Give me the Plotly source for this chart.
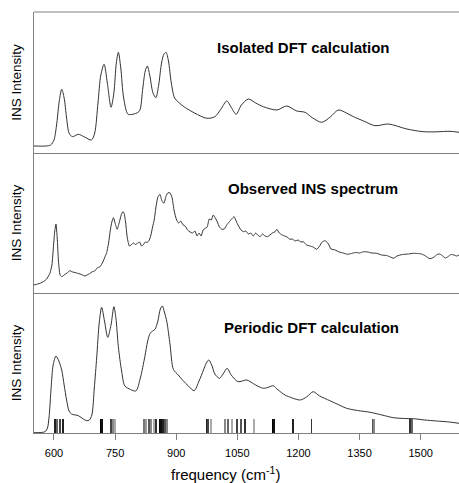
import plotly.graph_objects as go
from plotly.subplots import make_subplots

# ---------------- data ----------------
iso_freq = [551, 580, 592, 600, 607, 613, 619, 625, 631, 637, 645, 660, 675, 692, 700, 708, 715, 723, 731, 740,
            747, 753, 758, 764, 771, 782, 800, 810, 818, 824, 829, 835, 843, 850, 857, 864, 870, 875, 881, 888,
            896, 905, 920, 945, 975, 995, 1010, 1024, 1036, 1047, 1060, 1077, 1095, 1114, 1147, 1171, 1196, 1216,
            1235, 1257, 1278, 1298, 1318, 1335, 1360, 1388, 1421, 1466, 1506, 1540, 1572, 1594]
iso_int = [7, 7, 8, 13, 30, 52, 63.7, 55, 35, 20, 16.3, 18.7, 16, 13, 20, 50, 78, 88.7, 70, 45.7,
           60, 90, 100.7, 85, 55, 38.7, 39.5, 42, 65, 82, 87, 78, 60, 55.3, 68, 90, 99, 100.7, 92, 70,
           55, 51, 46, 40, 34.7, 36.3, 44, 52, 45, 38.7, 48, 54, 50, 46.3, 43, 47, 42, 40.7,
           35, 30.7, 36, 43, 40, 36.3, 32, 27.3, 29, 24, 21.3, 21.2, 21.7, 20.7]

obs_freq = [551, 560, 567, 574, 582, 590, 595, 599, 602, 605, 608, 611, 615, 619, 625, 632, 639, 646, 652, 658,
            664, 670, 676, 681, 688, 694, 700, 706, 713, 720, 725, 729, 734, 738, 742, 746, 750, 755, 760, 765,
            769, 772, 776, 780, 785, 789, 795, 800, 805, 810, 815, 819, 824, 829, 834, 838, 842, 846, 850, 855,
            860, 865, 870, 875, 880, 885, 890, 895, 901, 906, 911, 917, 922, 928, 934, 940, 946, 951, 956, 961,
            966, 971, 976, 981, 986, 991, 996, 1001, 1006, 1012, 1018, 1024, 1030, 1036, 1042, 1047, 1053, 1059,
            1065, 1071, 1077, 1083, 1089, 1095, 1100, 1106, 1112, 1118, 1124, 1130, 1136, 1142, 1147, 1153, 1160,
            1166, 1172, 1179, 1185, 1192, 1199, 1206, 1212, 1220, 1228, 1236, 1245, 1252, 1258, 1265, 1272, 1280,
            1290, 1300, 1310, 1320, 1330, 1340, 1350, 1360, 1370, 1380, 1392, 1404, 1416, 1426, 1433, 1442, 1455,
            1470, 1482, 1492, 1502, 1512, 1520, 1526, 1533, 1540, 1547, 1554, 1560, 1567, 1574, 1582, 1588, 1594]
obs_int = [8, 9, 10, 11.3, 14, 19.7, 28, 48, 62, 69, 55, 32, 18, 16.3, 18, 20, 22.3, 21, 20.5, 19.7,
           19, 18, 17, 18, 19.5, 21.3, 22, 25, 26.3, 31, 36, 39.7, 50, 62, 71, 75.3, 70, 63.7, 70, 78,
           81.3, 80, 70, 55, 47, 48, 50, 48.5, 49.7, 51, 47, 48, 51, 50.5, 53, 58, 66, 73, 85, 96,
           98.7, 92, 89.7, 97, 100.3, 100, 95, 82, 73, 70, 72, 68, 67, 63, 61, 60, 62, 57, 60, 57,
           63, 64.7, 66, 74, 73, 78, 75, 71, 66, 63.7, 64, 68, 71, 74, 76.3, 72, 67, 63,
           61.3, 62, 59, 60, 57, 60, 58, 56.3, 59, 57, 56.3, 58, 60, 61, 63.7, 60, 58,
           57, 56, 53.7, 54, 52, 53, 51, 51.3, 48, 47, 46, 43.7, 47, 51, 52.3, 50, 44,
           43, 41, 40, 38.7, 39.5, 40.5, 40, 41.3, 41, 40, 39.7, 38, 37.5, 36, 34.7, 37, 38.5,
           39, 39.7, 39.5, 39, 37, 34.7, 34.5, 36, 38.5, 39, 37, 35, 36.3, 38.5, 38, 37, 38]

per_freq = [551, 578, 584, 588, 593, 598, 605, 612, 619, 625, 631, 637, 643, 660, 672, 680, 687, 693, 699, 705,
            711, 717, 724, 732, 740, 747, 752, 758, 766, 774, 788, 801, 812, 823, 830, 836, 842, 848, 855, 861,
            866, 871, 877, 885, 893, 905, 917, 930, 944, 956, 967, 974, 980, 987, 995, 1006, 1015, 1025, 1035,
            1052, 1073, 1095, 1114, 1128, 1138, 1150, 1167, 1185, 1204, 1220, 1236, 1252, 1277, 1300, 1318, 1345,
            1376, 1405, 1433, 1460, 1482, 1510, 1539, 1570, 1594]
per_int = [0.3, 1.3, 5, 16, 45, 68, 77, 72, 63, 48, 33, 22, 19, 17.3, 14, 12.3, 13, 18, 45, 76,
           110, 125.7, 112, 95.7, 108, 126.3, 115, 86.3, 62, 47, 43.5, 42, 55, 76.3, 92, 99.7, 102, 103.7, 112, 124,
           127, 121, 111.3, 88, 63.7, 58, 52.3, 47, 42.3, 52, 63, 70, 73, 68, 59, 54.7, 59, 64.7, 58,
           51.3, 53, 48, 44.7, 46, 47.3, 43, 38, 35, 33, 36, 41.3, 37, 32.3, 28, 24.7, 22.5,
           20.7, 18, 15.3, 14.5, 14.3, 13, 12, 11, 9.7]

stick_freq = [602, 608, 615, 623, 715, 718, 740, 746, 750, 821, 826, 833, 839, 845, 851, 859, 863, 867, 872, 877,
              975, 979, 985, 1020, 1027, 1036, 1048, 1058, 1069, 1090, 1137, 1140, 1186, 1232, 1382, 1386, 1474, 1479]
stick_shade = ['#222', '#666', '#444', '#222', '#000', '#111', '#444', '#888', '#aaa', '#777', '#999', '#555',
               '#888', '#aaa', '#333', '#000', '#111', '#222', '#555', '#888', '#222', '#444', '#aaa', '#888',
               '#666', '#aaa', '#444', '#555', '#333', '#aaa', '#000', '#111', '#222', '#333', '#555', '#888',
               '#333', '#666']
stick_height = 14

panel_titles = ["Isolated DFT calculation", "Observed INS spectrum", "Periodic DFT calculation"]
x_ticks = [600, 750, 900, 1050, 1200, 1350, 1500]

assert len(iso_freq) == len(iso_int)
assert len(obs_freq) == len(obs_int)
assert len(per_freq) == len(per_int)
assert len(stick_freq) == len(stick_shade)

# ---------------- figure ----------------
FONT = "Liberation Sans, Arial, sans-serif"
AXC = "#808080"
LINEC = "#333333"

fig = make_subplots(rows=3, cols=1, shared_xaxes=True, vertical_spacing=0,
                    row_heights=[141, 140, 140])

fig.add_trace(go.Scatter(x=iso_freq, y=iso_int, mode="lines", line=dict(color=LINEC, width=1, shape="spline", smoothing=0.8),
                         hoverinfo="skip", showlegend=False), row=1, col=1)
fig.add_trace(go.Scatter(x=obs_freq, y=obs_int, mode="lines", line=dict(color=LINEC, width=1, shape="spline", smoothing=0.5),
                         hoverinfo="skip", showlegend=False), row=2, col=1)
fig.add_trace(go.Bar(x=stick_freq, y=[stick_height] * len(stick_freq), width=2.4,
                     marker=dict(color=stick_shade, line=dict(width=0)), hoverinfo="skip", showlegend=False),
              row=3, col=1)
fig.add_trace(go.Scatter(x=per_freq, y=per_int, mode="lines", line=dict(color=LINEC, width=1, shape="spline", smoothing=0.8),
                         hoverinfo="skip", showlegend=False), row=3, col=1)

xr = [551, 1594]
for r in (1, 2, 3):
    fig.update_xaxes(range=xr, showline=True, linecolor=AXC, linewidth=1, showgrid=False, zeroline=False,
                     tickmode="array", tickvals=x_ticks, ticks="outside" if r == 3 else "",
                     ticklen=6, tickcolor=AXC, showticklabels=(r == 3), ticklabelstandoff=4,
                     tickfont=dict(family=FONT, size=11, color="#000"), row=r, col=1)
    fig.update_yaxes(showline=True, linecolor=AXC, linewidth=1, showgrid=False, zeroline=False,
                     showticklabels=False, ticks="", row=r, col=1,
                     title=dict(text="INS Intensity", font=dict(family=FONT, size=13.5, color="#000"), standoff=8))

fig.update_yaxes(range=[0, 141], row=1, col=1)
fig.update_yaxes(range=[0, 140], row=2, col=1)
fig.update_yaxes(range=[0, 140], row=3, col=1)

# top border of upper panel
fig.add_shape(type="line", xref="paper", yref="paper", x0=0, x1=1, y0=1, y1=1,
              line=dict(color=AXC, width=1))

title_pos = [(303, 106), (313, 105), (311, 106)]
for r, (t, (px, iy)) in enumerate(zip(panel_titles, title_pos), start=1):
    fig.add_annotation(text="<b>%s</b>" % t, xref="x%s" % ("" if r == 1 else r), yref="y%s" % ("" if r == 1 else r),
                       x=551 + (px - 34) / 0.4074, y=iy, showarrow=False, xanchor="center", yanchor="middle",
                       font=dict(family=FONT, size=15, color="#000"))

fig.add_annotation(text="frequency (cm<sup>-1</sup>)", xref="paper", yref="paper", x=(225 - 34) / 425, y=0,
                   yshift=-40, xanchor="center", yanchor="middle", showarrow=False,
                   font=dict(family=FONT, size=15, color="#000"))

fig.update_layout(width=459, height=483, margin=dict(l=34, r=0, t=12, b=50),
                  plot_bgcolor="white", paper_bgcolor="white", bargap=0)

fig.write_html("out.html", config={"responsive": False, "displayModeBar": False},
               post_script="document.body.style.margin='0';document.body.style.overflow='hidden';")
